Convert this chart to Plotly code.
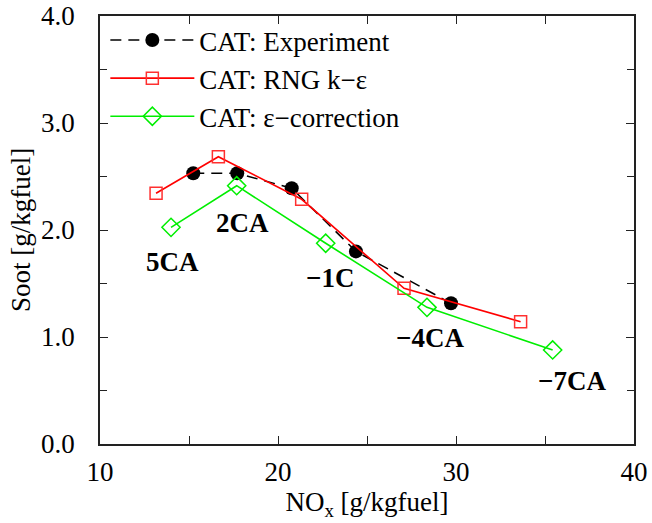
import plotly.graph_objects as go

# Data
exp_x = [15.24, 17.71, 20.77, 24.38, 29.72]
exp_y = [2.53, 2.53, 2.39, 1.80, 1.315]

rng_x = [13.15, 16.65, 21.33, 27.08, 33.63]
rng_y = [2.343, 2.685, 2.287, 1.455, 1.143]

eps_x = [13.99, 17.68, 22.68, 28.37, 35.43]
eps_y = [2.025, 2.414, 1.876, 1.277, 0.879]

series_names = ["CAT: Experiment", "CAT: RNG k\u2212\u03b5", "CAT: \u03b5\u2212correction"]

case_labels = ["5CA", "2CA", "\u22121C", "\u22124CA", "\u22127CA"]
case_label_x = [14.1, 18.03, 22.92, 28.54, 36.52]
case_label_y = [1.70, 2.065, 1.55, 0.99, 0.59]

x_ticks = [10, 20, 30, 40]
y_ticks = [0.0, 1.0, 2.0, 3.0, 4.0]

FONT = "Liberation Serif"

fig = go.Figure()
fig.add_trace(go.Scatter(
    x=exp_x, y=exp_y, name=series_names[0], mode="lines+markers",
    line=dict(color="black", width=1.5, dash="11px,7px"),
    marker=dict(symbol="circle", size=14, color="black"),
))
fig.add_trace(go.Scatter(
    x=rng_x, y=rng_y, name=series_names[1], mode="lines+markers",
    line=dict(color="#ff0000", width=1.6),
    marker=dict(symbol="square-open", size=12, color="#ff3030", line=dict(width=1.5)),
))
fig.add_trace(go.Scatter(
    x=eps_x, y=eps_y, name=series_names[2], mode="lines+markers",
    line=dict(color="#00ee00", width=1.6),
    marker=dict(symbol="diamond-open", size=14, color="#00ee00", line=dict(width=1.5)),
))

for t, ax, ay in zip(case_labels, case_label_x, case_label_y):
    fig.add_annotation(x=ax, y=ay, text="<b>%s</b>" % t, showarrow=False,
                       font=dict(family=FONT, size=27, color="black"))

axis_common = dict(
    showgrid=False, zeroline=False, showline=True, linecolor="#222", linewidth=1.5,
    mirror="ticks", ticks="inside", ticklen=8, tickcolor="#222", tickwidth=1,
    tickfont=dict(family=FONT, size=27, color="black"), automargin=False,
    ticklabeloverflow="allow",
)

fig.update_xaxes(
    range=[10, 40], tickvals=x_ticks, ticktext=[str(v) for v in x_ticks],
    minor=dict(dtick=5, ticks="inside", ticklen=8, tickcolor="#222", tickwidth=1),
    title=dict(text="NO<sub>x</sub> [g/kgfuel]", font=dict(family=FONT, size=27, color="black"), standoff=4),
    ticklabelstandoff=3,
    **axis_common,
)
fig.update_yaxes(
    range=[0, 4], tickvals=y_ticks, ticktext=["%.1f" % v for v in y_ticks],
    minor=dict(dtick=0.5, ticks="inside", ticklen=7, tickcolor="#222", tickwidth=1),
    title=dict(text="Soot [g/kgfuel]", font=dict(family=FONT, size=27, color="black"), standoff=3),
    ticklabelstandoff=18,
    **axis_common,
)

fig.update_layout(
    width=652, height=523,
    margin=dict(l=100, r=18, t=16, b=79),
    paper_bgcolor="white", plot_bgcolor="white",
    font=dict(family=FONT, size=27, color="black"),
    legend=dict(x=0.01, y=1.0, xanchor="left", yanchor="top",
                bgcolor="rgba(0,0,0,0)", font=dict(family=FONT, size=27, color="black"),
                itemwidth=84, tracegroupgap=0),
    showlegend=True,
)

fig.write_html("out.html", config={"displayModeBar": False},
               post_script="document.body.style.margin='0';")
